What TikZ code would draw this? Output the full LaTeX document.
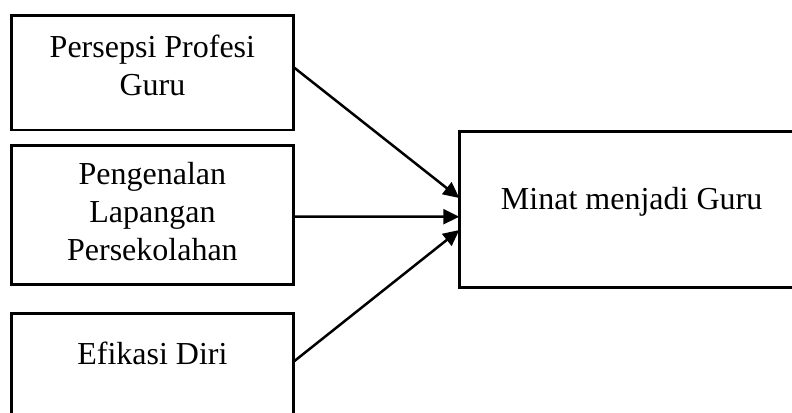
\documentclass[tikz,border=0pt]{standalone}
\usepackage{fontspec}
\setmainfont{Liberation Serif}
\usetikzlibrary{arrows.meta}
\begin{document}
\begin{tikzpicture}[x=1bp,y=-1bp,
  box/.style={draw=black, line width=2.6bp, rectangle, inner sep=0pt, outer sep=0pt,
    align=center, anchor=north west, font=\fontsize{32bp}{37.8bp}\selectfont},
  conn/.style={draw=black, line width=2.5bp, -{Triangle[length=16bp,width=15bp]}}]
\useasboundingbox (0,0) rectangle (792,412);
\clip (0,0) rectangle (792,412);
\fill[white] (0,0) rectangle (792,412);
\node[box, minimum width=281.8bp, text height=79.7bp, text depth=35bp] (b1) at (11.5,15.3)
  {Persepsi Profesi\\Guru};
\node[box, minimum width=281.8bp, text height=114.7bp, text depth=24.7bp] (b2) at (11.5,145.3)
  {Pengenalan\\Lapangan\\Persekolahan};
\node[box, minimum width=281.8bp, text height=51.2bp, text depth=60bp] (b3) at (11.5,313.3)
  {Efikasi Diri};
\node[box, minimum width=344.6bp, text height=77.7bp, text depth=78.3bp] (m) at (459.3,131.3)
  {Minat menjadi Guru};
\draw[conn] ([yshift=5.7bp]b1.east) -- ([yshift=11.3bp]m.west);
\draw[conn] ([yshift=-1.7bp]b2.east) -- ([yshift=-7.4bp]m.west);
\draw[conn] ([yshift=7bp]b3.east) -- ([yshift=-20.7bp]m.west);
\end{tikzpicture}
\end{document}
